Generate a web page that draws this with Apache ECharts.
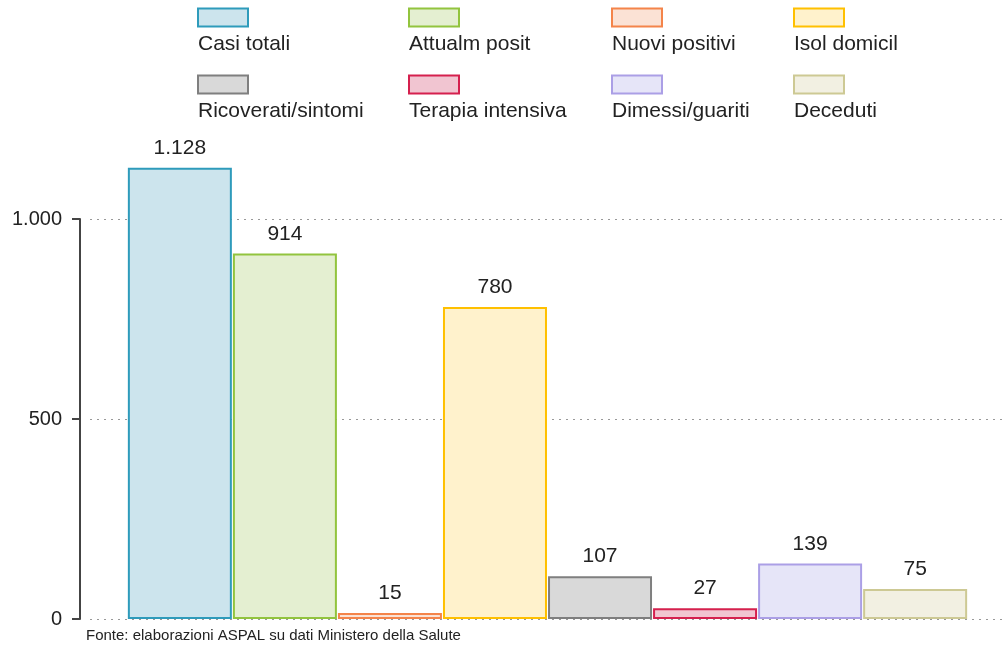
<!DOCTYPE html>
<html>
<head>
<meta charset="utf-8">
<script src="https://cdn.jsdelivr.net/npm/echarts@6/dist/echarts.min.js"></script>
<style>
  html, body { margin: 0; padding: 0; background: #fff; }
  #chart { width: 1005px; height: 649px; }
</style>
</head>
<body>
<div id="chart"></div>
<script>
// dati
const names = ['Casi totali', 'Attualm posit', 'Nuovi positivi', 'Isol domicil',
  'Ricoverati/sintomi', 'Terapia intensiva', 'Dimessi/guariti', 'Deceduti'];
const values = [1128, 914, 15, 780, 107, 27, 139, 75];
const fills = ['#cce4ed', '#e4efd1', '#fbe2d5', '#fff2cc', '#d9d9d9', '#f1c5d1', '#e6e5f8', '#f2f0e2'];
const borders = ['#2e9bbb', '#92c43e', '#f4844a', '#ffc000', '#7f7f7f', '#d5204e', '#ab9fe6', '#cdc994'];
const yTicks = [0, 500, 1000];

// posizioni legenda (sinistra icona, alto icona)
const legendCols = [197, 408, 611, 793];
const legendRows = [8, 75];

const fontFam = '"Liberation Sans", Arial, sans-serif';
const fmt = v => String(v).replace(/\B(?=(\d{3})+(?!\d))/g, '.');

const myChart = echarts.init(document.getElementById('chart'));

// il testo sta sotto l'icona: il box del testo sporge sopra di ~31px
const legends = names.map((n, i) => ({
  data: [n],
  left: legendCols[i % 4],
  top: legendRows[Math.floor(i / 4)] - 31,
  padding: 0,
  icon: 'rect',
  itemWidth: 50,
  itemHeight: 18,
  itemStyle: { borderWidth: 2 },
  selectedMode: false,
  formatter: name => '\n\n' + name,
  textStyle: {
    fontSize: 21,
    lineHeight: 27,
    color: '#222',
    fontFamily: fontFam,
    padding: [0, 0, 0, -55]
  }
}));

const series = names.map((n, i) => ({
  name: n,
  type: 'bar',
  data: [values[i]],
  barWidth: 104,
  barGap: '1%',
  clip: false,
  itemStyle: { color: fills[i], borderColor: borders[i], borderWidth: 2 },
  label: {
    show: true,
    position: 'top',
    distance: 9,
    fontSize: 21,
    color: '#222',
    fontFamily: fontFam,
    formatter: p => fmt(p.value)
  },
  emphasis: { disabled: true }
}));

myChart.setOption({
  animation: false,
  title: {
    text: 'Fonte: elaborazioni ASPAL su dati Ministero della Salute',
    left: 86,
    top: 628,
    padding: 0,
    textStyle: { fontSize: 15, fontWeight: 'normal', color: '#222', fontFamily: fontFam }
  },
  legend: legends,
  grid: { left: 90, right: -2, top: 219, bottom: 30 },
  xAxis: {
    type: 'category',
    data: [''],
    axisLine: { show: false },
    axisTick: { show: false },
    axisLabel: { show: false }
  },
  yAxis: {
    type: 'value',
    min: yTicks[0],
    max: yTicks[yTicks.length - 1],
    interval: 500,
    offset: 10,
    axisLine: { show: true, lineStyle: { color: '#444', width: 2 } },
    axisTick: { show: true, length: 8, lineStyle: { color: '#444', width: 2 } },
    axisLabel: {
      margin: 18,
      fontSize: 20,
      color: '#222',
      fontFamily: fontFam,
      formatter: v => fmt(v)
    },
    splitLine: { show: true, lineStyle: { color: '#999', type: [2, 5], width: 1 } }
  },
  series: series
});
</script>
</body>
</html>
